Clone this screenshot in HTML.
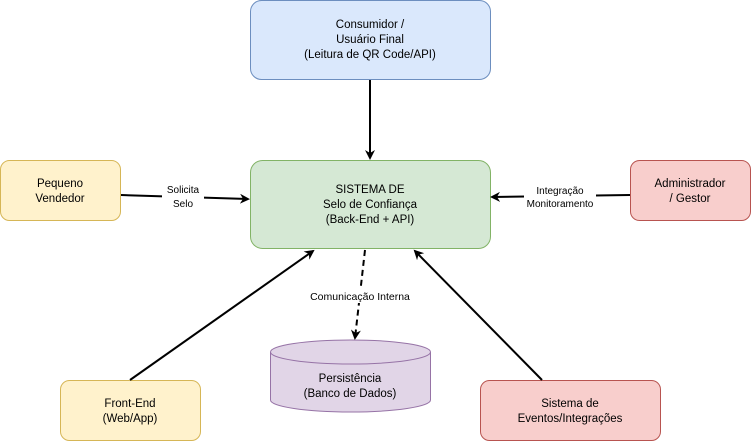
<!DOCTYPE html>
<html><head><meta charset="utf-8"><style>
html,body{margin:0;padding:0;background:#fff;}
svg text{font-family:"Liberation Sans",Arial,sans-serif;font-size:11.5px;fill:#000;}
</style></head><body>
<svg width="751" height="441" viewBox="0 0 751 441" xmlns="http://www.w3.org/2000/svg">
<defs>
<marker id="a" markerWidth="10" markerHeight="10" refX="8" refY="5" orient="auto" markerUnits="userSpaceOnUse">
<path d="M0,0 L10,5 L0,10 L3,5 Z" fill="#000"/></marker>
</defs>
<rect x="250.5" y="0.5" width="240" height="79" rx="11" fill="#dae8fc" stroke="#6c8ebf"/>
<text x="370" y="28" text-anchor="middle">Consumidor /</text>
<text x="370" y="43" text-anchor="middle">Usuário Final</text>
<text x="370" y="58" text-anchor="middle">(Leitura de QR Code/API)</text>

<rect x="250.5" y="160.5" width="240" height="88" rx="12" fill="#d5e8d4" stroke="#82b366"/>
<text x="370" y="193" text-anchor="middle">SISTEMA DE</text>
<text x="370" y="208" text-anchor="middle">Selo de Confiança</text>
<text x="370" y="223" text-anchor="middle">(Back-End + API)</text>

<rect x="0.5" y="160.5" width="120" height="60" rx="9" fill="#fff2cc" stroke="#d6b656"/>
<text x="60" y="187" text-anchor="middle">Pequeno</text>
<text x="60" y="202" text-anchor="middle">Vendedor</text>

<rect x="630.5" y="160.5" width="120" height="60" rx="9" fill="#f8cecc" stroke="#b85450"/>
<text x="690" y="187" text-anchor="middle">Administrador</text>
<text x="690" y="202" text-anchor="middle">/ Gestor</text>

<rect x="60.5" y="380.5" width="140" height="60" rx="9" fill="#fff2cc" stroke="#d6b656"/>
<text x="130" y="407" text-anchor="middle">Front-End</text>
<text x="130" y="422" text-anchor="middle">(Web/App)</text>

<rect x="480.5" y="380.5" width="180" height="60" rx="9" fill="#f8cecc" stroke="#b85450"/>
<text x="570" y="407" text-anchor="middle">Sistema de</text>
<text x="570" y="422" text-anchor="middle">Eventos/Integrações</text>

<path d="M270.5,352 L270.5,400 A80,12 0 0 0 430.5,400 L430.5,352" fill="#e1d5e7" stroke="#9673a6"/>
<ellipse cx="350.5" cy="352" rx="80" ry="12" fill="#e1d5e7" stroke="#9673a6"/>
<text x="350" y="382" text-anchor="middle">Persistência</text>
<text x="350" y="397" text-anchor="middle">(Banco de Dados)</text>

<g stroke="#000" stroke-width="2" fill="none">
<line x1="370" y1="80" x2="370" y2="158" marker-end="url(#a)"/>
<line x1="121" y1="195" x2="248" y2="199" marker-end="url(#a)"/>
<line x1="630" y1="195" x2="492" y2="197" marker-end="url(#a)"/>
<line x1="130" y1="380" x2="313" y2="251" marker-end="url(#a)"/>
<line x1="542" y1="380" x2="415" y2="251" marker-end="url(#a)"/>
<line x1="365" y1="250" x2="355" y2="338" stroke-dasharray="6,4" marker-end="url(#a)"/>
</g>
<rect x="162" y="182" width="42" height="28" fill="#fff"/>
<text x="183" y="193" text-anchor="middle" style="font-size:10px">Solicita</text>
<text x="183" y="207" text-anchor="middle" style="font-size:10px">Selo</text>
<rect x="524" y="183" width="72" height="26" fill="#fff"/>
<text x="560" y="194" text-anchor="middle" style="font-size:10px">Integração</text>
<text x="560" y="207" text-anchor="middle" style="font-size:10px">Monitoramento</text>
<rect x="308" y="289" width="104" height="14" fill="#fff"/>
<text x="360" y="300" text-anchor="middle" style="font-size:10.5px">Comunicação Interna</text>
</svg>
</body></html>
